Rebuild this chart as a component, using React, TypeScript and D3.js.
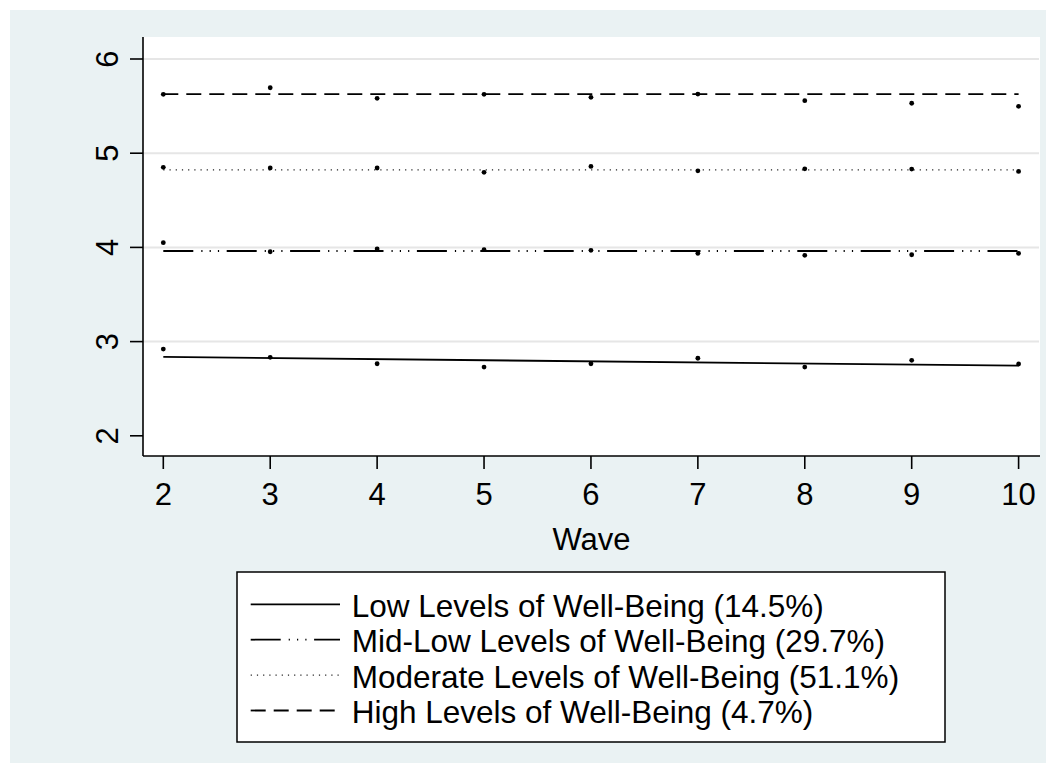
import React from "react";
import * as d3 from "d3";

// Waves on the horizontal axis
const waves = [2, 3, 4, 5, 6, 7, 8, 9, 10];

// Observed class means per wave
const lowMeans = [2.921, 2.833, 2.765, 2.73, 2.765, 2.823, 2.73, 2.801, 2.762];
const midLowMeans = [4.05, 3.954, 3.983, 3.976, 3.969, 3.937, 3.916, 3.922, 3.937];
const moderateMeans = [4.85, 4.843, 4.843, 4.797, 4.86, 4.813, 4.834, 4.831, 4.806];
const highMeans = [5.625, 5.695, 5.583, 5.625, 5.593, 5.628, 5.558, 5.53, 5.498];

// Fitted trajectories, evaluated at the first and last wave
const fitWaves = [2, 10];
const lowFit = [2.837, 2.744];
const midLowFit = [3.962, 3.962];
const moderateFit = [4.822, 4.822];
const highFit = [5.628, 5.628];

// Axis ticks
const xTicks = [2, 3, 4, 5, 6, 7, 8, 9, 10];
const yTicks = [2, 3, 4, 5, 6];
const yGrid = [3, 4, 5, 6];

// Legend labels
const legendLabels = [
  "Low Levels of Well-Being (14.5%)",
  "Mid-Low Levels of Well-Being (29.7%)",
  "Moderate Levels of Well-Being (51.1%)",
  "High Levels of Well-Being (4.7%)",
];

const W = 1056;
const H = 773;
const FONT = "Arial, 'Liberation Sans', Helvetica, sans-serif";

type Style = { width: number; dash: string; color: string };
const styles: Style[] = [
  { width: 1.8, dash: "", color: "#000" },
  { width: 1.8, dash: "30 8 1.2 7.1 1.2 7.1 1.2 7.6", color: "#000" },
  { width: 1.2, dash: "1.2 5", color: "#222" },
  { width: 1.8, dash: "15 8", color: "#000" },
];

export default function App() {
  const plot = { left: 143, right: 1040, top: 37, bottom: 456 };
  const x = d3.scaleLinear().domain([2, 10]).range([163.3, 1018.6]);
  const y = d3.scaleLinear().domain([2, 6]).range([435.8, 59]);

  const line = d3
    .line<[number, number]>()
    .x((d) => x(d[0]))
    .y((d) => y(d[1]));

  const fits = [lowFit, midLowFit, moderateFit, highFit];
  const means = [lowMeans, midLowMeans, moderateMeans, highMeans];

  const legend = { left: 237, right: 945, top: 572, bottom: 742 };
  const rowY0 = 604.3;
  const rowStep = 35.4;

  return (
    <svg
      width={W}
      height={H}
      style={{ position: "absolute", left: 0, top: 0, display: "block" }}
      fontFamily={FONT}
    >
      <rect x={0} y={0} width={W} height={H} fill="#fff" />
      <rect x={10} y={10} width={W - 20} height={H - 20} fill="#eaf2f3" />
      <rect
        x={plot.left}
        y={plot.top}
        width={plot.right - plot.left}
        height={plot.bottom - plot.top}
        fill="#fff"
      />

      {/* horizontal grid */}
      {yGrid.map((t) => (
        <line
          key={`g${t}`}
          x1={plot.left}
          x2={plot.right - 1}
          y1={y(t)}
          y2={y(t)}
          stroke="#e6e6e6"
          strokeWidth={2}
        />
      ))}

      {/* fitted trajectories */}
      {fits.map((f, i) => (
        <path
          key={`f${i}`}
          d={line(fitWaves.map((w, j) => [w, f[j]] as [number, number])) || ""}
          fill="none"
          stroke={styles[i].color}
          strokeWidth={styles[i].width}
          strokeDasharray={styles[i].dash || undefined}
        />
      ))}

      {/* observed means */}
      {means.map((m, i) =>
        m.map((v, j) => (
          <circle key={`p${i}-${j}`} cx={x(waves[j])} cy={y(v)} r={2.4} fill="#000" />
        ))
      )}

      {/* y axis */}
      <line x1={plot.left} x2={plot.left} y1={plot.top} y2={plot.bottom} stroke="#000" strokeWidth={1.6} />
      {yTicks.map((t) => (
        <g key={`y${t}`}>
          <line x1={plot.left - 13} x2={plot.left} y1={y(t)} y2={y(t)} stroke="#000" strokeWidth={1.6} />
          <text
            x={118}
            y={y(t)}
            transform={`rotate(-90, 118, ${y(t)})`}
            textAnchor="middle"
            fontSize={31}
            fill="#000"
          >
            {t}
          </text>
        </g>
      ))}

      {/* x axis */}
      <line x1={plot.left} x2={plot.right} y1={plot.bottom} y2={plot.bottom} stroke="#000" strokeWidth={1.6} />
      {xTicks.map((t) => (
        <g key={`x${t}`}>
          <line x1={x(t)} x2={x(t)} y1={plot.bottom} y2={plot.bottom + 13} stroke="#000" strokeWidth={1.6} />
          <text x={x(t)} y={505} textAnchor="middle" fontSize={31} fill="#000">
            {t}
          </text>
        </g>
      ))}
      <text x={(plot.left + plot.right) / 2 + 0} y={550} textAnchor="middle" fontSize={31} fill="#000">
        Wave
      </text>

      {/* legend */}
      <rect
        x={legend.left}
        y={legend.top}
        width={legend.right - legend.left}
        height={legend.bottom - legend.top}
        fill="#fff"
        stroke="#000"
        strokeWidth={1.5}
      />
      {legendLabels.map((lab, i) => {
        const ly = rowY0 + i * rowStep;
        return (
          <g key={`l${i}`}>
            <line
              x1={250.7}
              x2={340}
              y1={ly}
              y2={ly}
              stroke={styles[i].color}
              strokeWidth={styles[i].width}
              strokeDasharray={styles[i].dash || undefined}
            />
            <text x={351.7} y={ly + 12.4} fontSize={31.5} fill="#000">
              {lab}
            </text>
          </g>
        );
      })}
    </svg>
  );
}
